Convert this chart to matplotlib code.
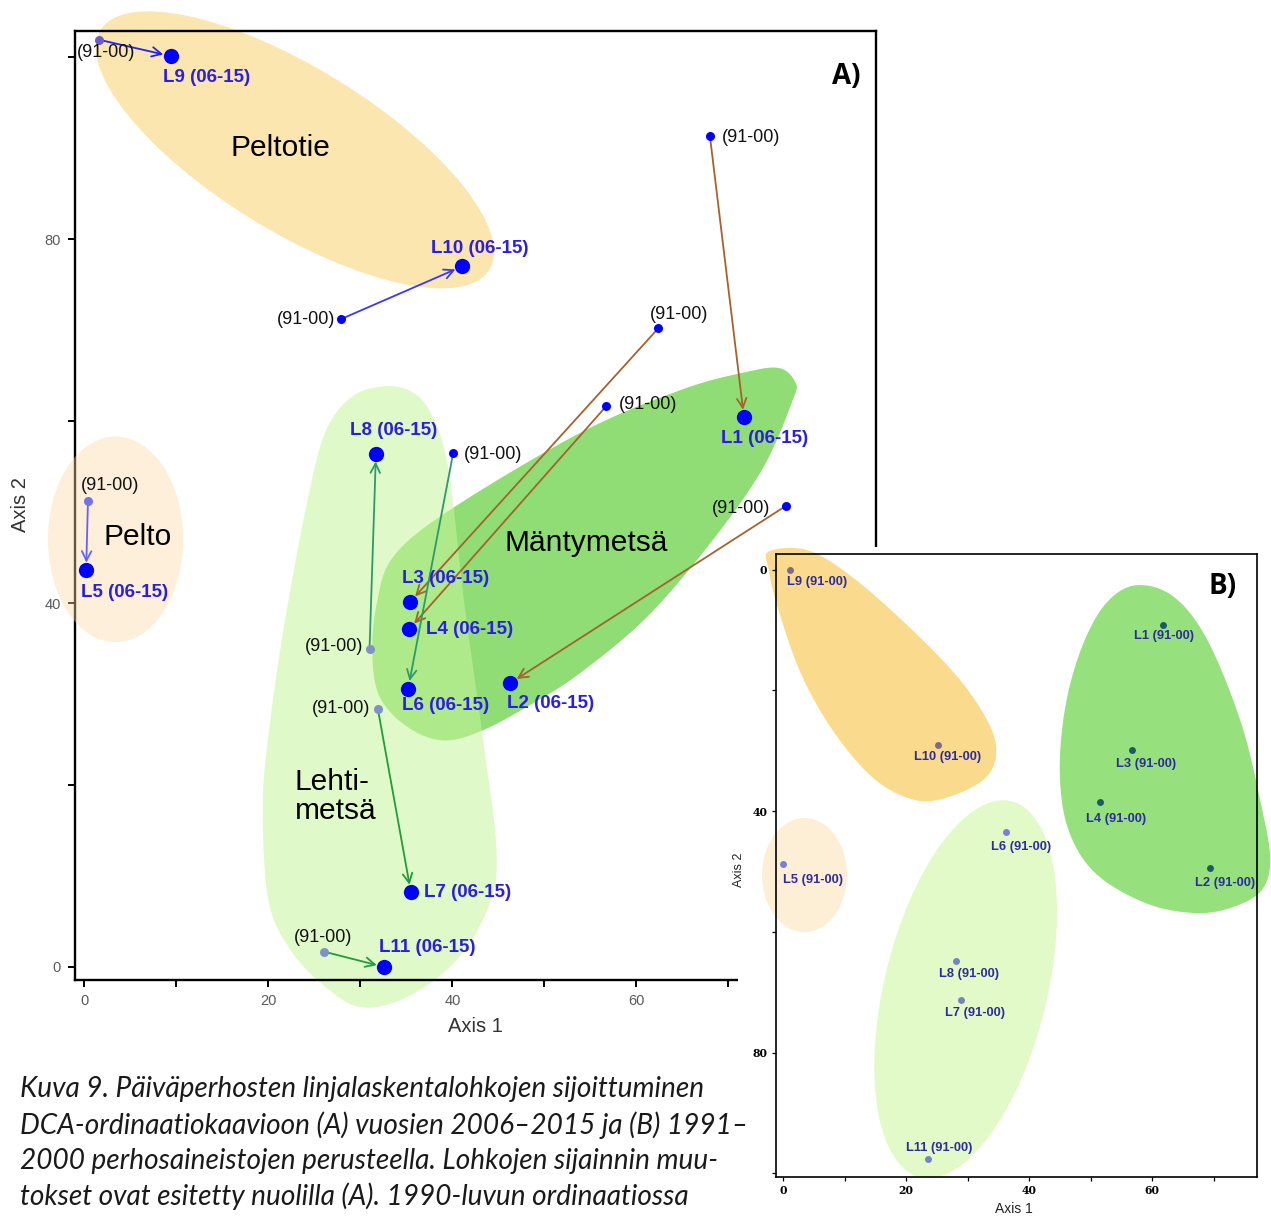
import numpy as np
import matplotlib.pyplot as plt
from matplotlib.patches import Ellipse, Polygon, Rectangle

plt.rcParams['font.family'] = ['Liberation Sans', 'DejaVu Sans']

# ------------------------------------------------------------------
# data
# ------------------------------------------------------------------
SITES = ['L1', 'L2', 'L3', 'L4', 'L5', 'L6', 'L7', 'L8', 'L9', 'L10', 'L11']
GROUP = ['mänty', 'mänty', 'mänty', 'mänty', 'pelto', 'lehti', 'lehti', 'lehti',
         'peltotie', 'peltotie', 'lehti']

# A) DCA 2006-2015, with the 1991-2000 positions as arrow starts
A_OLD_X = [68.0, 76.3, 62.4, 56.7, 0.4, 40.1, 31.9, 31.0, 1.6, 27.9, 26.0]
A_OLD_Y = [91.3, 50.7, 70.2, 61.6, 51.2, 56.5, 28.4, 34.9, 101.9, 71.2, 1.7]
A_NEW_X = [71.7, 46.3, 35.4, 35.3, 0.2, 35.2, 35.5, 31.7, 9.4, 41.1, 32.6]
A_NEW_Y = [60.4, 31.2, 40.1, 37.1, 43.6, 30.6, 8.2, 56.4, 100.1, 77.0, 0.0]

# B) DCA 1991-2000 (axis 2 reversed)
B_X = [61.8, 69.4, 56.7, 51.6, 0.0, 36.3, 28.9, 28.1, 1.1, 25.2, 23.5]
B_Y = [9.1, 49.4, 29.9, 38.5, 48.8, 43.5, 71.3, 64.8, 0.0, 29.0, 97.6]

# hand drawn group outlines (axis units)
A_MANTY_X = [33.6, 39.7, 53.9, 64.8, 72.0, 75.6, 77.3, 77.0, 73.8, 68.3, 61.2, 53.9, 48.8,
             43.3, 39.0, 35.1, 32.1, 31.3, 31.8]
A_MANTY_Y = [45.1, 50.2, 58.7, 63.4, 65.4, 65.8, 64.2, 62.3, 54.9, 46.9, 38.5, 32.3, 29.0,
             26.0, 24.9, 26.4, 29.7, 34.5, 40.0]
A_LEHTI_X = [29.0, 32.5, 35.6, 37.8, 39.6, 41.3, 43.3, 44.8, 44.0, 40.5, 35.1, 30.0, 26.0,
             22.4, 20.0, 19.4, 20.2, 21.8, 24.2, 26.2]
A_LEHTI_Y = [62.6, 63.8, 63.2, 60.6, 54.6, 40.0, 25.3, 12.9, 6.8, 0.8, -3.3, -4.4, -2.0,
             1.9, 7.4, 18.0, 27.0, 38.0, 51.0, 58.8]
A_PELTOTIE = (22.9, 89.8, 49.8, 17.9, -32)  # centre x, centre y, width, height, angle
A_PELTO = (3.4, 47.0, 14.7, 22.6)

B_PELTOTIE_X = [-2.3, 4.0, 11.2, 20.5, 28.8, 33.7, 34.6, 32.6, 27.1, 21.6, 15.0, 8.4, 2.9, -0.9, -2.3]
B_PELTOTIE_Y = [-3.0, -3.2, 1.2, 9.5, 18.3, 26.0, 31.0, 34.8, 37.6, 38.2, 34.8, 27.1, 17.2, 6.1, 0.1]
B_MANTY_X = [57.4, 63.5, 69.0, 74.5, 77.8, 79.2, 77.8, 73.4, 67.3, 59.1, 50.8, 46.4, 45.0,
             45.9, 48.6, 52.5]
B_MANTY_Y = [2.6, 4.5, 11.7, 25.5, 39.3, 48.1, 53.1, 55.8, 56.9, 55.3, 50.3, 43.1, 33.7,
             22.7, 12.8, 5.6]
B_LEHTI = (29.7, 69.5, 64.0, 26.5, 103.3)
B_PELTO = (3.5, 50.6, 13.8, 18.9)

CAPTION = [
    'Kuva 9. Päiväperhosten linjalaskentalohkojen sijoittuminen',
    'DCA-ordinaatiokaavioon (A) vuosien 2006–2015 ja (B) 1991–',
    '2000 perhosaineistojen perusteella. Lohkojen sijainnin muu-',
    'tokset ovat esitetty nuolilla (A). 1990-luvun ordinaatiossa',
]

# ------------------------------------------------------------------
# styles
# ------------------------------------------------------------------
ARROW_COL = ['#A5622C', '#A5622C', '#A5622C', '#A5622C', '#6262FF', '#2E9A6A', '#1E9E3A',
             '#2E9A6A', '#2222F5', '#3838F5', '#1E9E3A']
OLD_DOT_COL = ['#0000FF', '#0000FF', '#0000FF', '#0000FF', '#7272EE', '#0000FF', '#7E92C6',
               '#7E92C6', '#6C5CC8', '#0000FF', '#7E92C6']
B_DOT_COL = ['#1E5A64', '#1E5A64', '#1E5A64', '#1E5A64', '#7C7CDA', '#7C7CDA', '#7084C8',
             '#7084C8', '#7E6B8A', '#7E6B8A', '#7084C8']
# label anchor and offset in pixels (y up)
A_NEW_LAB = [('center', 21, -21), ('center', 40, -20), ('center', 36, 24), ('left', 17, 0),
             ('center', 38, -22), ('center', 37, -17), ('left', 13, 0), ('center', 18, 23),
             ('center', 36, -21), ('center', 17, 18), ('center', 43, 19)]
A_OLD_LAB = [('left', 12, -1), ('right', -16, -3), ('center', 21, 14), ('left', 13, 2),
             ('center', 22, 16), ('left', 11, -2), ('right', -8, 0), ('right', -6, 3),
             ('center', 7, -13), ('right', -6, 0), ('center', 0, 14)]
B_LAB = [(1, -11), (15, -15), (14, -14), (16, -17), (30, -16), (15, -15), (14, -13),
         (13, -13), (27, -12), (10, -12), (12, 11)]

W, H = 1271, 1216


def outline(xs, ys, n=24):
    # closed Catmull-Rom curve through the traced points
    p = np.column_stack([xs, ys])
    m = len(p)
    t = np.linspace(0, 1, n, endpoint=False)[:, None]
    seg = []
    for i in range(m):
        p0, p1, p2, p3 = p[i - 1], p[i], p[(i + 1) % m], p[(i + 2) % m]
        seg.append(0.5 * (2 * p1 + (p2 - p0) * t + (2 * p0 - 5 * p1 + 4 * p2 - p3) * t ** 2
                          + (-p0 + 3 * p1 - 3 * p2 + p3) * t ** 3))
    return np.vstack(seg)


fig = plt.figure(figsize=(W / 100, H / 100), dpi=100)

# ==================== panel A ====================
axA = fig.add_axes([75 / W, 1 - 980 / H, 801 / W, 949 / H])
axA.set_xlim(-1.01, 86.05)
axA.set_ylim(-1.43, 102.86)

axA.add_patch(Ellipse(A_PELTOTIE[:2], A_PELTOTIE[2], A_PELTOTIE[3], angle=A_PELTOTIE[4],
                      fc='#FCE6B0', ec='none', zorder=1, clip_on=False))
axA.add_patch(Polygon(outline(A_MANTY_X, A_MANTY_Y), closed=True, fc='#8FDD74',
                      ec='none', zorder=1, clip_on=False))
axA.add_patch(Polygon(outline(A_LEHTI_X, A_LEHTI_Y), closed=True, fc='#C8F69D', alpha=0.56,
                      ec='none', zorder=1.1, clip_on=False))
axA.add_patch(Ellipse(A_PELTO[:2], A_PELTO[2], A_PELTO[3], fc='#FAD9A2', alpha=0.4,
                      ec='none', zorder=3, clip_on=False))

axA.text(21.3, 90.0, 'Peltotie', fontsize=21.5, ha='center', va='center', zorder=4)
axA.text(5.8, 47.3, 'Pelto', fontsize=21.5, ha='center', va='center', zorder=4)
axA.text(54.5, 46.6, 'Mäntymetsä', fontsize=21.5, ha='center', va='center', zorder=4)
axA.text(22.9, 18.7, 'Lehti-\nmetsä', fontsize=21.5, ha='left', va='center',
         linespacing=1.05, zorder=4)

for i, site in enumerate(SITES):
    axA.annotate('', xy=(A_NEW_X[i], A_NEW_Y[i]), xytext=(A_OLD_X[i], A_OLD_Y[i]),
                 arrowprops=dict(arrowstyle='->', color=ARROW_COL[i], lw=1.3,
                                 shrinkA=0, shrinkB=5.5, mutation_scale=17),
                 zorder=4, annotation_clip=False)
    axA.plot(A_OLD_X[i], A_OLD_Y[i], 'o', ms=6.5, color=OLD_DOT_COL[i], mec='none',
             zorder=5, clip_on=False)
    axA.plot(A_NEW_X[i], A_NEW_Y[i], 'o', ms=11, color='#0000FF', mec='none',
             zorder=5, clip_on=False)
    ha, dx, dy = A_NEW_LAB[i]
    axA.annotate(f'{site} (06-15)', (A_NEW_X[i], A_NEW_Y[i]), xytext=(dx, dy),
                 textcoords='offset pixels', ha=ha, va='center', fontsize=13.5,
                 fontweight='bold', color='#2A1FE0', zorder=6, annotation_clip=False)
    ha, dx, dy = A_OLD_LAB[i]
    axA.annotate('(91-00)', (A_OLD_X[i], A_OLD_Y[i]), xytext=(dx, dy),
                 textcoords='offset pixels', ha=ha, va='center', fontsize=13,
                 color='#111111', zorder=6, annotation_clip=False)

axA.set_xticks(np.arange(0, 81, 10))
axA.set_xticklabels(['0', '', '20', '', '40', '', '60', '', '80'])
axA.set_yticks(np.arange(0, 101, 20))
axA.set_yticklabels(['0', '', '40', '', '80', ''])
axA.tick_params(direction='out', length=5, width=1.4, labelsize=10.5, labelcolor='#5A5A5A',
                pad=5)
for s in axA.spines.values():
    s.set_linewidth(1.7)

fig.text(475 / W, 1 - 1027 / H, 'Axis 1', fontsize=14.5, color='#333333',
         ha='center', va='center')
fig.text(20 / W, 1 - 505 / H, 'Axis 2', fontsize=14.5, color='#333333',
         ha='center', va='center', rotation=90)
fig.text(846 / W, 1 - 77 / H, 'A)', fontsize=20, fontweight='bold', family='Open Sans',
         ha='center', va='center')

# ==================== panel B ====================
fig.add_artist(Rectangle((738 / W, 0), 1 - 738 / W, (H - 547) / H, transform=fig.transFigure,
                         fc='white', ec='none', zorder=1))

axB = fig.add_axes([775.6 / W, 1 - 1176.7 / H, (1257 - 775.6) / W, (1176.7 - 554) / H])
axB.set_zorder(2)
axB.set_xlim(-1.2, 77.05)
axB.set_ylim(100.55, -2.58)

axB.add_patch(Polygon(outline(B_PELTOTIE_X, B_PELTOTIE_Y), closed=True, fc='#FADA8C',
                      ec='none', zorder=1, clip_on=False))
axB.add_patch(Polygon(outline(B_MANTY_X, B_MANTY_Y), closed=True, fc='#96E07D',
                      ec='none', zorder=1, clip_on=False))
axB.add_patch(Ellipse(B_LEHTI[:2], B_LEHTI[2], B_LEHTI[3], angle=B_LEHTI[4], fc='#E2FAC8',
                      ec='none', zorder=1, clip_on=False))
axB.add_patch(Ellipse(B_PELTO[:2], B_PELTO[2], B_PELTO[3], fc='#FDEFD6',
                      ec='none', zorder=1, clip_on=False))

for i, site in enumerate(SITES):
    axB.plot(B_X[i], B_Y[i], 'o', ms=5, color=B_DOT_COL[i], mec='none', zorder=5,
             clip_on=False)
    dx, dy = B_LAB[i]
    axB.annotate(f'{site} (91-00)', (B_X[i], B_Y[i]), xytext=(dx, dy),
                 textcoords='offset pixels', ha='center', va='center', fontsize=9.3,
                 fontweight='bold', color='#2C2C9C', zorder=6, annotation_clip=False)

axB.set_xticks(np.arange(0, 71, 10))
axB.set_xticklabels(['0', '', '20', '', '40', '', '60', ''])
axB.set_yticks(np.arange(0, 101, 20))
axB.set_yticklabels(['0', '', '40', '', '80', ''])
axB.tick_params(direction='out', length=3, width=0.9, labelsize=7.8, pad=3)
for lab in axB.get_xticklabels() + axB.get_yticklabels():
    lab.set_fontweight('bold')
    lab.set_family('DejaVu Serif')
for s in axB.spines.values():
    s.set_linewidth(1.2)

fig.text(1014 / W, 1 - 1209 / H, 'Axis 1', fontsize=10, color='#222222',
         ha='center', va='center')
fig.text(739 / W, 1 - 870 / H, 'Axis 2', fontsize=9, color='#222222',
         ha='center', va='center', rotation=90)
fig.text(1223 / W, 1 - 587 / H, 'B)', fontsize=20, fontweight='bold', family='Open Sans',
         ha='center', va='center', zorder=3)

# ==================== caption ====================
for k, line in enumerate(CAPTION):
    fig.text(20 / W, 1 - (1089 + 35.8 * k) / H, line, fontsize=20.2, style='italic',
             family='Lato', color='#1A1A1A', ha='left', va='center')

fig.savefig('out.png', dpi=100)
